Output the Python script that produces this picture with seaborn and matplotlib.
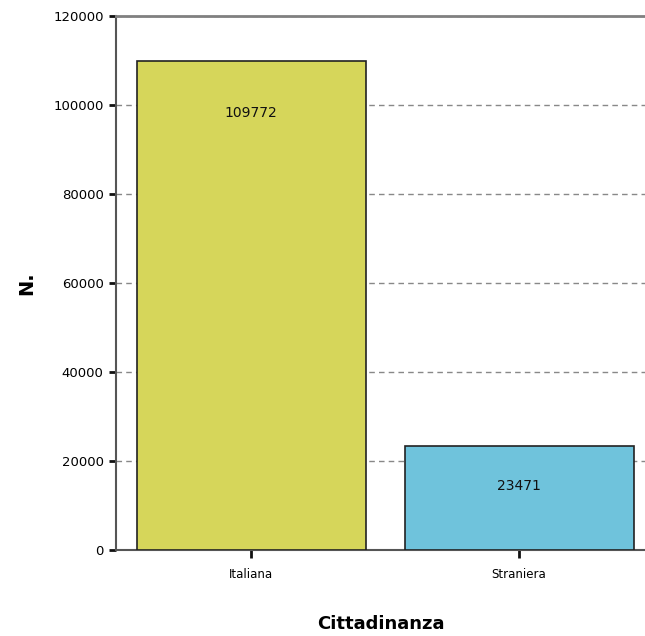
import matplotlib
matplotlib.use('Agg')
import matplotlib.pyplot as plt
import seaborn as sns
import pandas as pd

# data
categories = ['Italiana', 'Straniera']
counts = [109772, 23471]
bar_colors = ['#d6d65a', '#6fc3dc']
label_pads = [-42, -34]
y_ticks = [0, 20000, 40000, 60000, 80000, 100000, 120000]

df = pd.DataFrame({'Cittadinanza': categories, 'N.': counts})

sns.set_style('white')
plt.rcParams['font.family'] = ['DejaVu Sans']
plt.rcParams['text.color'] = 'black'
plt.rcParams['axes.labelcolor'] = 'black'
plt.rcParams['xtick.color'] = 'black'
plt.rcParams['ytick.color'] = 'black'

fig = plt.figure(figsize=(6.45, 6.36), dpi=100)
ax = fig.add_axes([0.18, 0.135, 0.82, 0.84])

sns.barplot(data=df, x='Cittadinanza', y='N.', hue='Cittadinanza',
            palette=bar_colors, saturation=1, width=0.855,
            edgecolor='#222222', linewidth=1.2,
            legend=False, ax=ax, zorder=3)

# value labels inside the bars
for cont, pad in zip(ax.containers, label_pads):
    ax.bar_label(cont, fmt='%d', padding=pad, fontsize=10, color='#111111')

ax.set_ylim(0, 120000)
ax.set_xlim(-0.504, 1.47)
ax.set_yticks(y_ticks)
ax.set_yticklabels([str(t) for t in y_ticks], fontsize=9.5)
ax.tick_params(axis='x', labelsize=8.5, length=6, width=2, color='#111111', pad=7, bottom=True)
ax.tick_params(axis='y', length=5, width=2, color='#111111', pad=4, left=True)

# dashed grid behind bars
ax.yaxis.grid(True, linestyle=(0, (4, 3)), color='#888888', linewidth=1, zorder=0)
ax.set_axisbelow(True)

ax.set_xlabel('Cittadinanza', fontsize=13, fontweight='bold', labelpad=24)
ax.set_ylabel('N.', fontsize=14, fontweight='bold', labelpad=12)

for side in ['left', 'bottom']:
    ax.spines[side].set_color('#555555')
    ax.spines[side].set_linewidth(1.5)
ax.spines['top'].set_color('#808080')
ax.spines['top'].set_linewidth(2)
ax.spines['right'].set_visible(False)

fig.savefig('out.png', dpi=100)
